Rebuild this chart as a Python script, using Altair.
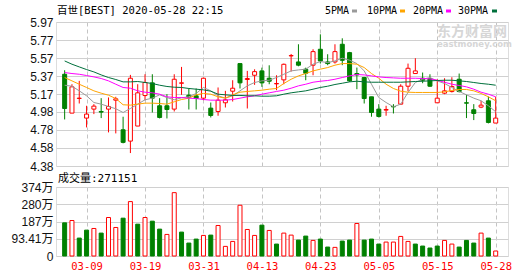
import altair as alt
import pandas as pd
import numpy as np

# ---------------- data ----------------
dates = ['03-04', '03-05', '03-06', '03-09', '03-10', '03-11', '03-12', '03-13', '03-16', '03-17',
         '03-18', '03-19', '03-20', '03-23', '03-24', '03-25', '03-26', '03-27', '03-30', '03-31',
         '04-01', '04-02', '04-03', '04-06', '04-07', '04-08', '04-09', '04-13', '04-14', '04-15',
         '04-16', '04-17', '04-20', '04-21', '04-22', '04-23', '04-24', '04-27', '04-28', '04-29',
         '04-30', '05-01', '05-04', '05-05', '05-06', '05-07', '05-08', '05-11', '05-12', '05-13',
         '05-14', '05-15', '05-18', '05-19', '05-20', '05-21', '05-22', '05-26', '05-27', '05-28']

open_ = [5.393, 4.964, 5.126, 4.909, 5.008, 4.982, 5.008, 5.107, 4.780, 4.655,
         4.821, 5.158, 5.298, 5.045, 5.045, 5.008, 5.294, 5.162, 5.155, 5.129,
         5.019, 4.982, 5.078, 5.206, 5.511, 5.335, 5.382, 5.430, 5.349, 5.287,
         5.331, 5.596, 5.529, 5.449, 5.493, 5.669, 5.529, 5.529, 5.724, 5.632,
         5.401, 5.357, 5.144, 5.008, 4.997, 5.037, 5.063, 5.261, 5.401, 5.349,
         5.346, 5.078, 5.184, 5.202, 5.338, 5.078, 5.001, 5.030, 5.100, 4.854]
high = [5.437, 5.283, 5.320, 5.045, 5.063, 5.129, 5.137, 5.144, 4.924, 5.386,
        5.283, 5.393, 5.393, 5.129, 5.173, 5.393, 5.474, 5.236, 5.236, 5.357,
        5.081, 5.247, 5.210, 5.327, 5.511, 5.430, 5.448, 5.466, 5.492, 5.382,
        5.511, 5.617, 5.724, 5.466, 5.669, 5.834, 5.614, 5.724, 5.790, 5.640,
        5.467, 5.364, 5.144, 5.063, 5.045, 5.063, 5.283, 5.511, 5.570, 5.412,
        5.393, 5.338, 5.349, 5.360, 5.401, 5.166, 5.063, 5.100, 5.147, 5.144]
low = [4.894, 4.964, 5.070, 4.806, 4.953, 4.909, 4.751, 4.740, 4.630, 4.523,
       4.821, 5.107, 4.971, 4.905, 4.905, 4.982, 5.166, 5.004, 5.004, 5.107,
       4.916, 4.935, 5.026, 5.092, 5.236, 5.015, 5.276, 5.254, 5.283, 5.217,
       5.283, 5.423, 5.481, 5.327, 5.382, 5.511, 5.493, 5.511, 5.493, 5.309,
       5.228, 5.070, 4.924, 4.916, 4.935, 4.960, 5.056, 5.206, 5.401, 5.294,
       5.254, 5.078, 5.173, 5.192, 5.192, 4.909, 4.887, 5.019, 4.850, 4.854]
close = [5.015, 5.254, 5.129, 4.953, 5.041, 4.975, 5.037, 5.122, 4.641, 5.349,
         5.188, 5.302, 5.129, 4.916, 5.004, 5.338, 5.298, 5.140, 5.125, 5.349,
         4.938, 5.107, 5.111, 5.239, 5.298, 5.346, 5.422, 5.298, 5.316, 5.291,
         5.503, 5.599, 5.493, 5.404, 5.643, 5.540, 5.511, 5.643, 5.547, 5.320,
         5.386, 5.125, 4.971, 4.927, 5.004, 5.033, 5.261, 5.459, 5.430, 5.327,
         5.261, 5.129, 5.210, 5.258, 5.202, 5.074, 4.960, 5.052, 4.861, 4.909]

ma5 = [5.272, 5.261, 5.210, 5.155, 5.081, 5.063, 5.037, 5.012, 4.971, 5.015,
       5.063, 5.111, 5.129, 5.166, 5.136, 5.111, 5.133, 5.144, 5.181, 5.247,
       5.210, 5.155, 5.129, 5.155, 5.210, 5.265, 5.302, 5.320, 5.327, 5.357,
       5.393, 5.430, 5.441, 5.449, 5.504, 5.533, 5.522, 5.540, 5.570, 5.548,
       5.511, 5.430, 5.283, 5.136, 5.081, 5.034, 5.063, 5.192, 5.302, 5.338,
       5.357, 5.320, 5.291, 5.247, 5.203, 5.166, 5.129, 5.100, 5.045, 4.979]
ma10 = [5.357, 5.320, 5.283, 5.247, 5.210, 5.184, 5.162, 5.125, 5.056, 5.052,
        5.063, 5.074, 5.074, 5.070, 5.063, 5.089, 5.114, 5.129, 5.166, 5.181,
        5.173, 5.144, 5.129, 5.166, 5.195, 5.203, 5.210, 5.217, 5.228, 5.236,
        5.291, 5.338, 5.375, 5.401, 5.430, 5.449, 5.467, 5.493, 5.511, 5.511,
        5.504, 5.467, 5.401, 5.349, 5.283, 5.236, 5.206, 5.195, 5.192, 5.192,
        5.192, 5.192, 5.199, 5.214, 5.225, 5.225, 5.210, 5.181, 5.144, 5.100]
ma20 = [5.412, 5.401, 5.393, 5.379, 5.364, 5.346, 5.320, 5.283, 5.247, 5.239,
        5.210, 5.195, 5.188, 5.173, 5.144, 5.136, 5.136, 5.129, 5.125, 5.114,
        5.107, 5.107, 5.107, 5.114, 5.129, 5.144, 5.155, 5.173, 5.188, 5.203,
        5.217, 5.239, 5.265, 5.283, 5.305, 5.316, 5.324, 5.338, 5.357, 5.375,
        5.390, 5.386, 5.375, 5.364, 5.357, 5.353, 5.349, 5.349, 5.349, 5.346,
        5.342, 5.327, 5.305, 5.283, 5.269, 5.254, 5.228, 5.195, 5.173, 5.144]
ma30 = [5.540, 5.504, 5.474, 5.445, 5.419, 5.386, 5.357, 5.335, 5.309, 5.309,
        5.313, 5.302, 5.291, 5.272, 5.258, 5.250, 5.247, 5.236, 5.228, 5.221,
        5.206, 5.173, 5.166, 5.159, 5.159, 5.155, 5.155, 5.151, 5.151, 5.155,
        5.173, 5.188, 5.199, 5.210, 5.228, 5.247, 5.261, 5.280, 5.294, 5.309,
        5.316, 5.309, 5.305, 5.305, 5.305, 5.305, 5.305, 5.309, 5.313, 5.316,
        5.320, 5.324, 5.327, 5.327, 5.320, 5.313, 5.302, 5.291, 5.283, 5.272]

# volume in 万 (10k shares)
vol = [179.8, 192.4, 97.1, 140.2, 149.2, 124.1, 208.6, 154.6, 205.0, 294.9,
       172.6, 208.6, 188.8, 145.6, 116.9, 343.4, 129.5, 70.1, 91.7, 111.5,
       113.3, 165.4, 52.1, 79.1, 275.1, 143.8, 111.5, 167.2, 138.5, 64.7,
       124.1, 113.3, 86.3, 107.9, 84.5, 91.7, 48.5, 46.8, 80.9, 86.3,
       176.2, 86.3, 91.7, 64.7, 75.5, 75.5, 106.1, 79.1, 64.7, 53.9,
       43.2, 53.9, 84.5, 64.7, 48.5, 84.5, 70.1, 124.1, 97.1, 27.1]

price_ticks = [4.38, 4.58, 4.78, 4.98, 5.17, 5.37, 5.57, 5.77, 5.97]
vol_ticks = [0, 93.41, 187, 280, 374]
date_ticks = ['03-09', '03-19', '03-31', '04-13', '04-23', '05-05', '05-15', '05-28']
ma_names = ['5PMA', '10PMA', '20PMA', '30PMA']
title_text = '百世[BEST] 2020-05-28 22:15'
vol_text = '成交量:271151'

# ---------------- styles ----------------
RED = '#ff0000'
GREEN = '#008000'
MA_COLORS = ['#9a9a9a', '#ffa500', '#ff00ff', '#00703c']
GRID = '#d0d0d0'
MONO = 'DejaVu Sans Mono, Noto Sans CJK SC'
SANS = 'Liberation Sans, Noto Sans CJK SC'

n = len(dates)
df = pd.DataFrame({'i': np.arange(n), 'date': dates, 'open': open_, 'high': high,
                   'low': low, 'close': close, 'vol': vol})
up = df['close'] >= df['open']
df['line'] = np.where(up, RED, GREEN)
df['fill'] = np.where(up, '#ffffff', GREEN)
prev_close = df['close'].shift(1)
vup = (df['close'] > prev_close)
df['vline'] = np.where(vup, RED, GREEN)
df['vfill'] = np.where(vup, '#ffffff', GREEN)

ma_df = pd.concat([
    pd.DataFrame({'i': np.arange(n), 'ma': name, 'v': vals, 'col': c})
    for name, vals, c in zip(ma_names, [ma5, ma10, ma20, ma30], MA_COLORS)
])

tick_idx = [dates.index(d) for d in date_ticks]
label_expr = "[" + ",".join("'%s'" % d for d in dates) + "][datum.value]"

xscale = alt.Scale(domain=[-0.5, 60.0], nice=False, zero=False)
x_top = alt.X('i:Q', scale=xscale, title=None,
              axis=alt.Axis(values=tick_idx, labels=False, ticks=False, domain=False,
                            grid=True, gridDash=[4, 3], gridColor='#c4c4c4'))
x_bot = alt.X('i:Q', scale=xscale, title=None,
              axis=alt.Axis(values=tick_idx, labelExpr=label_expr, ticks=False, domain=False,
                            grid=True, gridDash=[4, 3], gridColor='#c4c4c4',
                            labelColor=RED, labelFont=MONO, labelFontSize=10.5,
                            labelPadding=5, labelFlush=False, labelOverlap=False))

pscale = alt.Scale(domain=[4.38, 5.97], nice=False, zero=False)
p_axis = alt.Axis(values=price_ticks, format='.2f', ticks=False, domain=False, grid=True,
                  gridColor=GRID, labelFont=SANS, labelFontSize=12, labelColor='#111',
                  labelPadding=3, labelOverlap=False)

base = alt.Chart(df)

wick = base.mark_rule(strokeWidth=1).encode(
    x=x_top,
    y=alt.Y('low:Q', scale=pscale, axis=p_axis, title=None),
    y2='high:Q',
    color=alt.Color('line:N', scale=None),
)
body = base.mark_bar(size=4, strokeWidth=1).encode(
    x=x_top,
    y=alt.Y('open:Q', scale=pscale, axis=p_axis, title=None),
    y2='close:Q',
    fill=alt.Fill('fill:N', scale=None),
    stroke=alt.Stroke('line:N', scale=None),
)
lines = alt.Chart(ma_df).mark_line(strokeWidth=1).encode(
    x=x_top,
    y=alt.Y('v:Q', scale=pscale, axis=p_axis, title=None),
    color=alt.Color('col:N', scale=None),
    detail='ma:N',
)

one = pd.DataFrame({'k': [0]})
watermark1 = alt.Chart(one).mark_text(
    text='东方财富网', align='left', baseline='middle', font='Noto Sans CJK SC',
    fontSize=14, fontWeight='bold', color='#d6d6d6'
).encode(x=alt.value(381), y=alt.value(10))
watermark2 = alt.Chart(one).mark_text(
    text='eastmoney.com', align='left', baseline='middle', font='DejaVu Sans',
    fontSize=8.5, fontWeight='bold', color='#d6d6d6'
).encode(x=alt.value(381), y=alt.value(22))

header = alt.Chart(one).mark_text(
    text=title_text, align='left', baseline='middle', font=MONO, fontSize=10.5, color='#000'
).encode(x=alt.value(1), y=alt.value(-11))

legend_layers = []
leg_x = [269, 311, 357, 402]
sw_x = [296, 344, 390, 436]
for name, c, lx, sx in zip(ma_names, MA_COLORS, leg_x, sw_x):
    legend_layers.append(alt.Chart(one).mark_text(
        text=name, align='left', baseline='middle', font=MONO, fontSize=10, color='#000'
    ).encode(x=alt.value(lx), y=alt.value(-11)))
    legend_layers.append(alt.Chart(one).mark_rect(color=c).encode(
        x=alt.value(sx), x2=alt.value(sx + 5), y=alt.value(-12.5), y2=alt.value(-9.5)))

price = alt.layer(watermark1, watermark2, wick, body, lines, header, *legend_layers).properties(
    width=452, height=144)

v_axis = alt.Axis(values=vol_ticks,
                  labelExpr="datum.value == 0 ? '0' : format(datum.value, '.4~g') + '万'",
                  ticks=False, domain=False, grid=True, gridColor=GRID,
                  labelFont=SANS, labelFontSize=12, labelColor='#111', labelPadding=3,
                  labelOverlap=False)
vbars = alt.Chart(df).mark_bar(size=4, strokeWidth=1).encode(
    x=x_bot,
    y=alt.Y('vol:Q', scale=alt.Scale(domain=[0, 374], nice=False), axis=v_axis, title=None),
    y2=alt.datum(0),
    fill=alt.Fill('vfill:N', scale=None),
    stroke=alt.Stroke('vline:N', scale=None),
)
vtitle = alt.Chart(one).mark_text(
    text=vol_text, align='left', baseline='middle', font=MONO, fontSize=11, color='#000'
).encode(x=alt.value(2), y=alt.value(-8))

volume = alt.layer(vbars, vtitle).properties(width=452, height=69)

chart = alt.vconcat(price, volume, spacing=21).properties(
    padding={'left': 10, 'top': 5, 'right': 6, 'bottom': 2},
    bounds='flush',
).configure_view(stroke='#999999', strokeWidth=1).configure(background='white')

chart.save("out.html", embed_options={"renderer": "svg", "actions": False})
